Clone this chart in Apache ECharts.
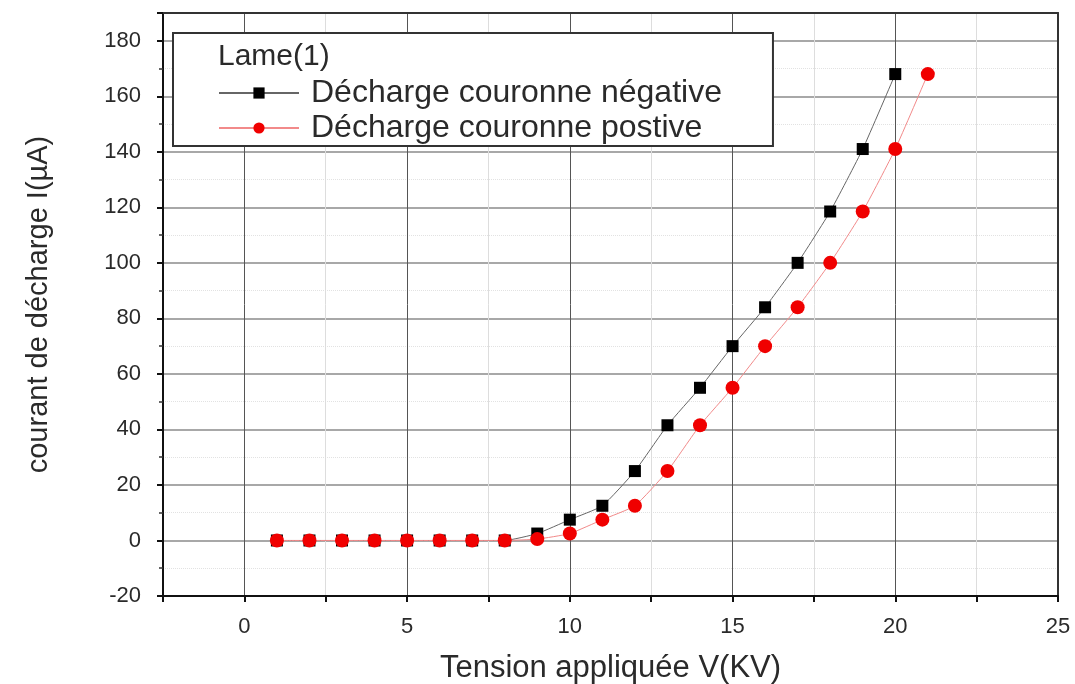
<!DOCTYPE html>
<html>
<head>
<meta charset="utf-8">
<script src="https://cdn.jsdelivr.net/npm/echarts@6/dist/echarts.min.js"></script>
<style>
html,body{margin:0;padding:0;background:#fff;}
#chart{width:1075px;height:684px;}
</style>
</head>
<body>
<div id="chart"></div>
<script>
// ---- data ----
const legendTitle = 'Lame(1)';
const seriesNames = ['Décharge couronne négative', 'Décharge couronne postive'];
const voltageNeg = [1, 2, 3, 4, 5, 6, 7, 8, 9, 10, 11, 12, 13, 14, 15, 16, 17, 18, 19, 20];
const currentNeg = [0, 0, 0, 0, 0, 0, 0, 0, 2.5, 7.5, 12.5, 25, 41.5, 55, 70, 84, 100, 118.5, 141, 168];
const voltagePos = [1, 2, 3, 4, 5, 6, 7, 8, 9, 10, 11, 12, 13, 14, 15, 16, 17, 18, 19, 20, 21];
const currentPos = [0, 0, 0, 0, 0, 0, 0, 0, 0.5, 2.5, 7.5, 12.5, 25, 41.5, 55, 70, 84, 100, 118.5, 141, 168];
const xAxisTitle = 'Tension appliquée V(KV)';
const yAxisTitle = 'courant de décharge I(µA)';

const FONT = 'Liberation Sans, Arial, sans-serif';
const TXT = '#2a2a2a';

const negData = voltageNeg.map((v, i) => [v, currentNeg[i]]);
const posData = voltagePos.map((v, i) => [v, currentPos[i]]);

const chart = echarts.init(document.getElementById('chart'));
chart.setOption({
  animation: false,
  backgroundColor: '#fff',
  textStyle: { fontFamily: FONT },
  title: {
    text: legendTitle,
    left: 218, top: 42,
    padding: 0,
    z: 10,
    textStyle: { fontFamily: FONT, fontSize: 30, fontWeight: 'normal', color: TXT }
  },
  legend: {
    orient: 'vertical',
    left: 173, top: 33,
    padding: [44, 51, 2, 45],
    itemGap: 3,
    itemWidth: 80,
    itemHeight: 14,
    backgroundColor: '#fff',
    borderColor: '#333',
    borderWidth: 2,
    borderRadius: 0,
    data: seriesNames,
    textStyle: { fontFamily: FONT, fontSize: 32, color: TXT, lineHeight: 30, padding: [0, 0, 0, 7] }
  },
  grid: { left: 163, right: 17, top: 13, bottom: 88, containLabel: false, outerBoundsMode: 'none' },
  xAxis: [{
    type: 'value', min: -2.5, max: 25, interval: 2.5,
    name: xAxisTitle, nameLocation: 'middle', nameGap: 57,
    nameTextStyle: { fontFamily: FONT, fontSize: 31, color: TXT },
    axisLine: { show: true, onZero: false, lineStyle: { color: '#111', width: 2 } },
    axisTick: { show: true, inside: false, length: 6, lineStyle: { color: '#111', width: 2 } },
    axisLabel: {
      margin: 20, fontFamily: FONT, fontSize: 22, color: TXT,
      formatter: v => (Math.abs(v % 5) < 1e-9 ? String(v) : '')
    },
    splitLine: { show: true, lineStyle: { color: ['#dddddd', '#555555'], width: 1 } }
  }, {
    type: 'value', min: -2.5, max: 25, position: 'top',
    axisLine: { show: true, onZero: false, lineStyle: { color: '#333', width: 2 } },
    axisTick: { show: false }, axisLabel: { show: false }, splitLine: { show: false }
  }],
  yAxis: [{
    type: 'value', min: -20, max: 190, interval: 20,
    name: yAxisTitle, nameLocation: 'middle', nameGap: 110, nameRotate: 90,
    nameTextStyle: { fontFamily: FONT, fontSize: 29, color: TXT },
    axisLine: { show: true, onZero: false, lineStyle: { color: '#111', width: 2 } },
    axisTick: { show: true, inside: false, length: 6, lineStyle: { color: '#111', width: 2 } },
    minorTick: { show: true, splitNumber: 2, length: 4, lineStyle: { color: '#333', width: 1.5 } },
    axisLabel: { margin: 22, fontFamily: FONT, fontSize: 22, color: TXT, showMaxLabel: false },
    splitLine: { show: true, lineStyle: { color: '#a8a8a8', width: 2 } },
    minorSplitLine: { show: true, lineStyle: { color: '#e2e2e2', width: 1, type: 'dotted' } }
  }, {
    type: 'value', min: -20, max: 190, position: 'right',
    axisLine: { show: true, onZero: false, lineStyle: { color: '#333', width: 2 } },
    axisTick: { show: false }, axisLabel: { show: false }, splitLine: { show: false }
  }],
  series: [{
    name: seriesNames[0],
    type: 'line',
    xAxisIndex: 0, yAxisIndex: 0,
    data: negData,
    smooth: 0.15,
    symbol: 'rect', symbolSize: 12,
    itemStyle: { color: '#000' },
    lineStyle: { color: '#666', width: 1 },
    z: 3
  }, {
    name: seriesNames[1],
    type: 'line',
    xAxisIndex: 0, yAxisIndex: 0,
    data: posData,
    smooth: 0.15,
    symbol: 'circle', symbolSize: 14,
    itemStyle: { color: '#f00000' },
    lineStyle: { color: '#f28a8a', width: 1 },
    z: 4
  }]
});
</script>
</body>
</html>
